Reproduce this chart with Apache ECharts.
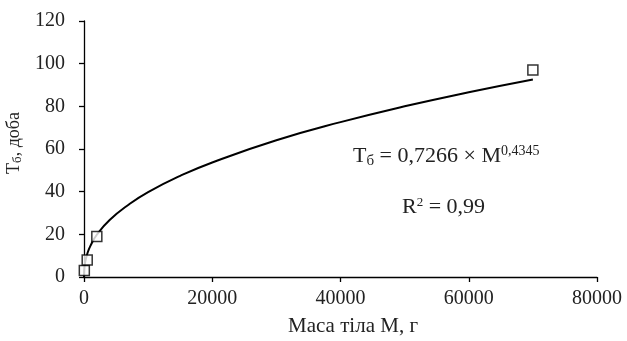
<!DOCTYPE html>
<html><head><meta charset="utf-8">
<script src="https://cdn.jsdelivr.net/npm/echarts@6/dist/echarts.min.js"></script>
<style>html,body{margin:0;padding:0;background:#fff}#c{width:627px;height:341px}</style>
</head><body><div id="c"></div>
<script>
// observed data points (mass M, g ; Tб, days)
const massObs = [50, 500, 2000, 70000];
const tObs = [3, 8, 19, 97];
// trendline samples
const trendMass = [0, 10, 50, 100, 200, 500, 1000, 2000, 4000, 7000, 10000, 15000, 20000, 30000, 40000, 50000, 60000, 70000];
const trendT = [0, 2.0, 4.0, 5.4, 7.3, 10.8, 14.6, 19.8, 26.7, 34.0, 39.8, 47.4, 53.7, 64.1, 72.6, 80.0, 86.6, 92.6];
const xTicks = [0, 20000, 40000, 60000, 80000];
const yTicks = [0, 20, 40, 60, 80, 100, 120];

const font = '"Liberation Serif", "Times New Roman", serif';
const txt = '#222';
const chart = echarts.init(document.getElementById('c'));
chart.setOption({
  animation: false,
  grid: {left: 84, right: 30, top: 21, bottom: 64, containLabel: false, outerBoundsMode: 'none'},
  xAxis: {
    type: 'value', min: xTicks[0], max: xTicks[xTicks.length-1], interval: 20000,
    name: 'Маса тіла М, г', nameLocation: 'middle', nameGap: 39,
    nameTextStyle: {fontFamily: font, fontSize: 21, color: txt, padding: [0, 0, 0, 25]},
    axisLine: {show: true, lineStyle: {color: '#000', width: 1.3}},
    axisTick: {show: true, length: 5, lineStyle: {color: '#000', width: 1.3}},
    axisLabel: {fontFamily: font, fontSize: 20, color: txt, margin: 12, formatter: v => String(v)},
    splitLine: {show: false}
  },
  yAxis: {
    type: 'value', min: yTicks[0], max: yTicks[yTicks.length-1], interval: 20,
    name: '{a|Т}{s|б}{a|, доба}', nameLocation: 'middle', nameGap: 58,
    nameTextStyle: {fontFamily: font, fontSize: 18, color: txt, padding: [0, 0, 0, 12],
      rich: {a: {fontFamily: font, fontSize: 18, color: txt}, s: {fontFamily: font, fontSize: 13, color: txt, padding: [7,0,0,0]}}},
    axisLine: {show: true, lineStyle: {color: '#000', width: 1.3}},
    axisTick: {show: true, length: 5, lineStyle: {color: '#000', width: 1.3}},
    axisLabel: {fontFamily: font, fontSize: 20, color: txt, margin: 19},
    splitLine: {show: false}
  },
  series: [
    {type: 'line', data: trendMass.map((m,i)=>[m, trendT[i]]), smooth: true, showSymbol: false,
     lineStyle: {color: '#000', width: 2}, z: 2},
    {type: 'scatter', data: massObs.map((m,i)=>[m, tObs[i]]), symbol: 'rect', symbolSize: 10,
     itemStyle: {color: '#fff', borderColor: '#000', borderWidth: 1.5}, z: 3}
  ],
  graphic: [
    {type: 'text', left: 353, top: 144, style: {
      text: '{a|Т}{s|б}{a| = 0,7266 × М}{p|0,4345}', fontFamily: font,
      rich: {a: {fontFamily: font, fontSize: 22, fill: txt},
             s: {fontFamily: font, fontSize: 15, fill: txt, padding: [9,0,0,0]},
             p: {fontFamily: font, fontSize: 14, fill: txt, padding: [0,0,11,0]}}}},
    {type: 'text', left: 402, top: 196, style: {
      text: '{a|R}{p|2}{a| = 0,99}', fontFamily: font,
      rich: {a: {fontFamily: font, fontSize: 22, fill: txt},
             p: {fontFamily: font, fontSize: 13, fill: txt, padding: [0,0,9,0]}}}}
  ]
});
</script></body></html>
